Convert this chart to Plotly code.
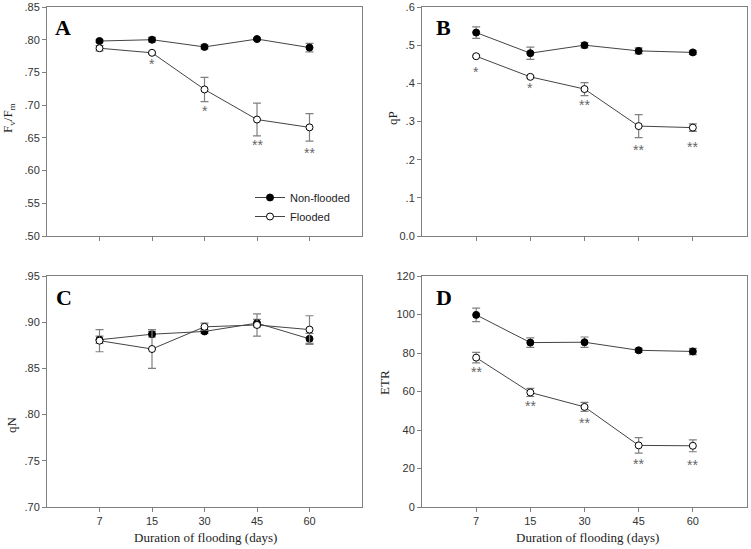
import plotly.graph_objects as go

days = ["7", "15", "30", "45", "60"]

# panel A: Fv/Fm
fvfm_nf = [0.798, 0.800, 0.789, 0.801, 0.788]
fvfm_nf_err = [0.002, 0.0035, 0.003, 0.002, 0.0065]
fvfm_f = [0.787, 0.780, 0.724, 0.678, 0.666]
fvfm_f_err = [0.004, 0.002, 0.0185, 0.025, 0.021]
fvfm_sig = ["", "*", "*", "**", "**"]
fvfm_sig_y = [0, 0.768, 0.695, 0.644, 0.632]

# panel B: qP
qp_nf = [0.533, 0.479, 0.500, 0.485, 0.481]
qp_nf_err = [0.015, 0.016, 0.007, 0.008, 0.005]
qp_f = [0.471, 0.417, 0.385, 0.288, 0.284]
qp_f_err = [0.003, 0.003, 0.017, 0.030, 0.010]
qp_sig = ["*", "*", "**", "**", "**"]
qp_sig_y = [0.438, 0.395, 0.352, 0.233, 0.240]

# panel C: qN
qn_nf = [0.881, 0.887, 0.890, 0.899, 0.882]
qn_nf_err = [0.004, 0.003, 0.002, 0.004, 0.006]
qn_f = [0.880, 0.871, 0.895, 0.897, 0.892]
qn_f_err = [0.012, 0.021, 0.004, 0.012, 0.015]

# panel D: ETR
etr_nf = [99.8, 85.4, 85.6, 81.4, 80.8]
etr_nf_err = [3.5, 2.5, 2.7, 1.0, 1.6]
etr_f = [77.6, 59.5, 52.0, 32.0, 31.8]
etr_f_err = [2.7, 2.1, 2.3, 4.0, 3.1]
etr_sig = ["**", "**", "**", "**", "**"]
etr_sig_y = [71.6, 54.0, 45.3, 23.9, 23.5]

SANS = "Arial, Liberation Sans, sans-serif"
SERIF = "Times New Roman, Liberation Serif, serif"
W, H = 751, 549

fig = go.Figure()


def add_pair(nf, nf_err, fl, fl_err, ax, legend=False):
    xa = "x" if ax == 1 else "x%d" % ax
    ya = "y" if ax == 1 else "y%d" % ax
    for vals, errs, fill, name in [(nf, nf_err, "black", "Non-flooded"),
                                   (fl, fl_err, "white", "Flooded")]:
        fig.add_trace(go.Scatter(
            x=days, y=vals, xaxis=xa, yaxis=ya, name=name,
            mode="lines+markers", showlegend=legend,
            line=dict(color="#444444", width=1),
            marker=dict(size=7, color=fill, line=dict(color="black", width=1)),
            error_y=dict(type="data", array=errs, visible=True,
                         color="#808080", thickness=1.2, width=4),
        ))


add_pair(fvfm_nf, fvfm_nf_err, fvfm_f, fvfm_f_err, 1, legend=True)
add_pair(qp_nf, qp_nf_err, qp_f, qp_f_err, 2)
add_pair(qn_nf, qn_nf_err, qn_f, qn_f_err, 3)
add_pair(etr_nf, etr_nf_err, etr_f, etr_f_err, 4)

annotations = []
for sig, ys, ax in [(fvfm_sig, fvfm_sig_y, 1), (qp_sig, qp_sig_y, 2), (etr_sig, etr_sig_y, 4)]:
    xa = "x" if ax == 1 else "x%d" % ax
    ya = "y" if ax == 1 else "y%d" % ax
    # category axis: annotation x given as the category index
    for i, (s, yv) in enumerate(zip(sig, ys)):
        if s:
            annotations.append(dict(x=i, y=yv, xref=xa, yref=ya, text=s, showarrow=False,
                                    yshift=-3, font=dict(family=SANS, size=14, color="#666666")))


def paper_text(text, px, py, size, family=SERIF, angle=0, color="#222222"):
    return dict(x=px / W, y=1 - py / H, xref="paper", yref="paper", text=text,
                textangle=angle, xanchor="center", yanchor="middle", showarrow=False,
                font=dict(family=family, size=size, color=color))


# panel letters
for lab, px, py in [("A", 63, 27), ("B", 443, 27), ("C", 64, 297), ("D", 444, 297)]:
    annotations.append(paper_text("<b>%s</b>" % lab, px, py, 22, color="black"))

# y axis titles
for lab, px, py in [("F<sub>v</sub>/F<sub>m</sub>", 9, 118), ("qP", 393, 118),
                    ("qN", 11, 425), ("ETR", 384, 383)]:
    annotations.append(paper_text(lab, px, py, 13, angle=-90))

# x axis titles
for px in [205, 587]:
    annotations.append(paper_text("Duration of flooding (days)", px, 537, 13))

left = [47 / W, 362 / W]
right = [422 / W, 747 / W]
top = [1 - 236 / H, 1 - 7 / H]
bottom = [1 - 507 / H, 1 - 276 / H]

axis_common = dict(showline=True, mirror=True, linecolor="#808080", linewidth=1,
                   ticks="outside", ticklen=4, tickcolor="#808080", showgrid=False,
                   zeroline=False, automargin=False,
                   tickfont=dict(family=SANS, size=11, color="#333333"))


def xaxis(dom, anchor, labels):
    return dict(axis_common, domain=dom, anchor=anchor, type="category",
                range=[-1, 5], showticklabels=labels)


def yaxis(dom, anchor, rng, vals, texts):
    return dict(axis_common, domain=dom, anchor=anchor, range=rng,
                tickvals=vals, ticktext=texts)


fig.update_layout(
    width=W, height=H,
    margin=dict(l=0, r=0, t=0, b=0),
    plot_bgcolor="white", paper_bgcolor="white",
    xaxis=xaxis(left, "y", False),
    yaxis=yaxis(top, "x", [0.50, 0.85],
                [0.50, 0.55, 0.60, 0.65, 0.70, 0.75, 0.80, 0.85],
                [".50", ".55", ".60", ".65", ".70", ".75", ".80", ".85"]),
    xaxis2=xaxis(right, "y2", False),
    yaxis2=yaxis(top, "x2", [0, 0.6],
                 [0, 0.1, 0.2, 0.3, 0.4, 0.5, 0.6],
                 ["0.0", ".1", ".2", ".3", ".4", ".5", ".6"]),
    xaxis3=xaxis(left, "y3", True),
    yaxis3=yaxis(bottom, "x3", [0.70, 0.95],
                 [0.70, 0.75, 0.80, 0.85, 0.90, 0.95],
                 [".70", ".75", ".80", ".85", ".90", ".95"]),
    xaxis4=xaxis(right, "y4", True),
    yaxis4=yaxis(bottom, "x4", [0, 120],
                 [0, 20, 40, 60, 80, 100, 120],
                 ["0", "20", "40", "60", "80", "100", "120"]),
    legend=dict(x=250 / W, y=1 - 183 / H, xanchor="left", yanchor="top",
                bgcolor="rgba(0,0,0,0)", font=dict(family=SANS, size=11, color="#222222"),
                tracegroupgap=0),
    annotations=annotations,
)

# drop the page's default body margin so the 751x549 figure fills the window exactly
fig.write_html("out.html", config={"displayModeBar": False},
               post_script="document.body.style.margin='0';document.body.style.overflow='hidden';")
